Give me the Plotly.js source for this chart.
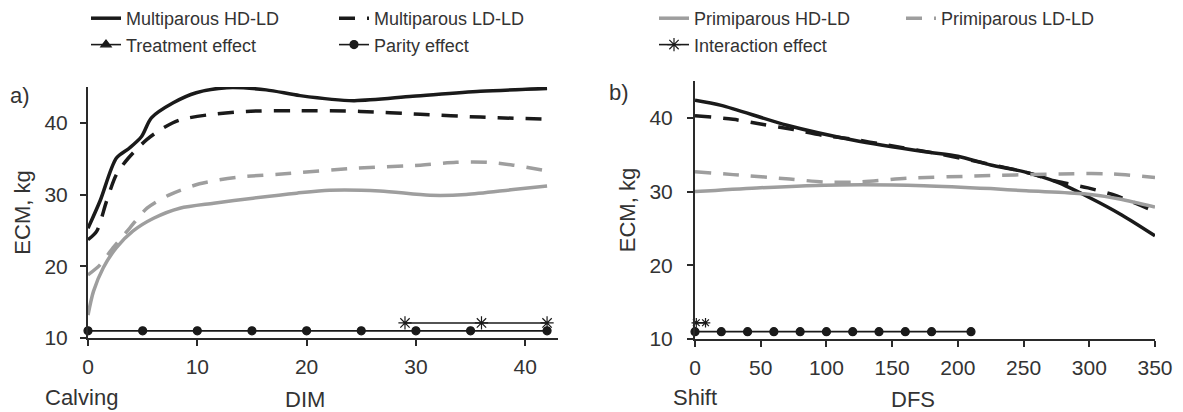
<!DOCTYPE html>
<html>
<head>
<meta charset="utf-8">
<script src="https://cdn.plot.ly/plotly-3.0.1.min.js"></script>
<style>
  html, body { margin: 0; padding: 0; background: #fff; }
  #chart { width: 1183px; height: 412px; }
</style>
</head>
<body>
<div id="chart"></div>
<script>
// ---- a) Energy-corrected milk around calving (days in milk) ----
const dimMultiHD = [0, 1.1, 2.6, 3.8, 4.9, 5.8, 7.8, 9.9, 12.7, 16.3, 19.4, 24.3, 29.7, 35.9, 42];
const ecmMultiHD = [25.3, 29.1, 35.1, 36.5, 38.1, 40.7, 42.8, 44.2, 44.9, 44.6, 43.8, 43.1, 43.7, 44.4, 44.8];

const dimMultiLD = [0, 0.8, 1.7, 2.6, 3.7, 5.4, 6.9, 8.4, 10.9, 14.5, 19.1, 24.9, 30.4, 35.9, 42];
const ecmMultiLD = [23.7, 24.9, 29.1, 32.8, 35.1, 37.7, 39.3, 40.4, 41.1, 41.6, 41.7, 41.6, 41.2, 40.8, 40.5];

const dimPrimiHD = [0, 0.5, 1.4, 2.6, 4.1, 6.0, 8.4, 11.5, 15.1, 19.1, 22.1, 26.7, 31.3, 34.6, 38.9, 42];
const ecmPrimiHD = [13.2, 16.5, 19.8, 22.6, 24.9, 26.7, 28.1, 28.8, 29.5, 30.2, 30.6, 30.5, 29.9, 30.0, 30.7, 31.2];

const dimPrimiLD = [0, 1.1, 2.3, 3.8, 5.4, 7.5, 10.2, 13.6, 18, 24.6, 30.4, 33.7, 36.5, 38.9, 42];
const ecmPrimiLD = [18.8, 20.2, 22.6, 25.3, 28.1, 30.0, 31.5, 32.4, 32.9, 33.7, 34.1, 34.5, 34.5, 34.1, 33.3];

// significance rows (drawn just above the axis)
const dimParity = [0, 5, 10, 15, 20, 25, 30, 35, 42];
const rowParityA = [11, 11, 11, 11, 11, 11, 11, 11, 11];
const dimInteraction = [29, 36, 42];
const rowInteractionA = [12.1, 12.1, 12.1];

// ---- b) Energy-corrected milk after the shift (days from shift) ----
const dfsMultiHD = [0, 20, 70, 120, 175, 200, 225, 250, 275, 300, 325, 350];
const ecmMultiHDb = [42.4, 41.7, 39.0, 37.0, 35.4, 34.8, 33.6, 32.7, 31.3, 29.2, 26.8, 24.0];

const dfsMultiLD = [0, 29, 52, 75, 98, 120, 143, 186, 252, 275, 299, 321, 350];
const ecmMultiLDb = [40.3, 39.8, 39.1, 38.4, 37.6, 37.1, 36.4, 35.1, 32.6, 31.4, 30.5, 29.4, 27.3];

const dfsPrimiHD = [0, 47, 110, 174, 225, 252, 296, 323, 350];
const ecmPrimiHDb = [30.0, 30.5, 30.9, 30.8, 30.4, 30.1, 29.7, 29.0, 27.9];

const dfsPrimiLD = [0, 29, 72, 98, 123, 161, 212, 278, 316, 350];
const ecmPrimiLDb = [32.7, 32.3, 31.7, 31.3, 31.3, 31.8, 32.1, 32.4, 32.4, 31.9];

const dfsParity = [0, 20, 40, 60, 80, 100, 120, 140, 160, 180, 210];
const rowParityB = [11, 11, 11, 11, 11, 11, 11, 11, 11, 11, 11];
const dfsInteraction = [1, 8];
const rowInteractionB = [12.2, 12.2];

// ---- styling ----
const DARK = '#1a1a1a';
const GREY = '#9e9e9e';
const TEXT = '#333333';
const FONT = 'Liberation Sans, Arial, sans-serif';
const DASH = '16px,12px';

function curve(x, y, name, color, dash, xa, ya, legend, show) {
  return {
    type: 'scatter', mode: 'lines', x: x, y: y, name: name,
    xaxis: xa, yaxis: ya, legend: legend, showlegend: show,
    line: { color: color, width: 3.5, dash: dash, shape: 'spline', smoothing: 0.8 },
    hoverinfo: 'skip'
  };
}

function effectRow(x, y, name, symbol, size, xa, ya, legend, show) {
  return {
    type: 'scatter', mode: 'lines+markers', x: x, y: y, name: name,
    xaxis: xa, yaxis: ya, legend: legend, showlegend: show, cliponaxis: false,
    line: { color: DARK, width: 1.6 },
    marker: { symbol: symbol, size: size, color: DARK, line: { color: DARK, width: 1.2 } },
    hoverinfo: 'skip'
  };
}

const traces = [
  curve(dimMultiHD, ecmMultiHD, 'Multiparous HD-LD', DARK, 'solid', 'x', 'y', 'legend', true),
  effectRow([null], [null], 'Treatment effect', 'triangle-up', 9, 'x', 'y', 'legend', true),
  curve(dimMultiLD, ecmMultiLD, 'Multiparous LD-LD', DARK, DASH, 'x', 'y', 'legend2', true),
  effectRow(dimParity, rowParityA, 'Parity effect', 'circle', 8, 'x', 'y', 'legend2', true),
  curve(dimPrimiHD, ecmPrimiHD, 'Primiparous HD-LD', GREY, 'solid', 'x', 'y', 'legend3', true),
  effectRow(dimInteraction, rowInteractionA, 'Interaction effect', 'asterisk-open', 11, 'x', 'y', 'legend3', true),
  curve(dimPrimiLD, ecmPrimiLD, 'Primiparous LD-LD', GREY, DASH, 'x', 'y', 'legend4', true),

  curve(dfsMultiHD, ecmMultiHDb, 'Multiparous HD-LD', DARK, 'solid', 'x2', 'y2', 'legend', false),
  curve(dfsMultiLD, ecmMultiLDb, 'Multiparous LD-LD', DARK, DASH, 'x2', 'y2', 'legend', false),
  curve(dfsPrimiHD, ecmPrimiHDb, 'Primiparous HD-LD', GREY, 'solid', 'x2', 'y2', 'legend', false),
  curve(dfsPrimiLD, ecmPrimiLDb, 'Primiparous LD-LD', GREY, DASH, 'x2', 'y2', 'legend', false),
  effectRow(dfsParity, rowParityB, 'Parity effect', 'circle', 8, 'x2', 'y2', 'legend', false),
  effectRow(dfsInteraction, rowInteractionB, 'Interaction effect', 'asterisk-open', 8, 'x2', 'y2', 'legend', false)
];

const W = 1183, H = 412;
const px = v => v / W;
const py = v => 1 - v / H;

const axisBase = {
  showgrid: false, zeroline: false, showline: true,
  linecolor: '#2a2a2a', linewidth: 2,
  ticks: 'outside', ticklen: 6, tickwidth: 2, tickcolor: '#2a2a2a',
  tickfont: { family: FONT, size: 21, color: TEXT },
  fixedrange: true
};

function legendAt(xPix) {
  return {
    x: px(xPix), xanchor: 'left', y: 1, yanchor: 'top',
    orientation: 'v', bgcolor: 'rgba(0,0,0,0)', borderwidth: 0,
    font: { family: FONT, size: 18, color: TEXT },
    itemwidth: 30, tracegroupgap: 0
  };
}

const yTitle = { text: 'ECM, kg', font: { family: FONT, size: 22, color: TEXT }, standoff: 8 };
const labelFont = { family: FONT, size: 22, color: TEXT };

const layout = {
  width: W, height: H,
  margin: { l: 0, r: 0, t: 0, b: 0 },
  paper_bgcolor: '#fff', plot_bgcolor: '#fff',
  font: { family: FONT, color: TEXT },
  xaxis: Object.assign({}, axisBase, {
    domain: [px(88), px(558)], range: [0, 43], tickvals: [0, 10, 20, 30, 40], anchor: 'y',
    ticklabelstandoff: 3
  }),
  yaxis: Object.assign({}, axisBase, {
    domain: [py(338), py(87)], range: [10, 45], tickvals: [10, 20, 30, 40], anchor: 'x',
    ticklabelstandoff: 8, title: yTitle
  }),
  xaxis2: Object.assign({}, axisBase, {
    domain: [px(695), px(1155)], range: [0, 350], tickvals: [0, 50, 100, 150, 200, 250, 300, 350], anchor: 'y2',
    ticklabelstandoff: 3
  }),
  yaxis2: Object.assign({}, axisBase, {
    domain: [py(339), py(81)], range: [10, 45], tickvals: [10, 20, 30, 40], anchor: 'x2',
    ticklabelstandoff: 10, title: yTitle
  }),
  legend: legendAt(86),
  legend2: legendAt(334),
  legend3: legendAt(654),
  legend4: legendAt(901),
  annotations: [
    { text: 'a)', xref: 'paper', yref: 'paper', x: px(8), y: py(95), xanchor: 'left', yanchor: 'middle', showarrow: false, font: labelFont },
    { text: 'b)', xref: 'paper', yref: 'paper', x: px(607), y: py(92), xanchor: 'left', yanchor: 'middle', showarrow: false, font: labelFont },
    { text: 'Calving', xref: 'paper', yref: 'paper', x: px(81), y: py(397), xanchor: 'center', yanchor: 'middle', showarrow: false, font: labelFont },
    { text: 'DIM', xref: 'paper', yref: 'paper', x: px(305), y: py(399), xanchor: 'center', yanchor: 'middle', showarrow: false, font: labelFont },
    { text: 'Shift', xref: 'paper', yref: 'paper', x: px(695), y: py(397), xanchor: 'center', yanchor: 'middle', showarrow: false, font: labelFont },
    { text: 'DFS', xref: 'paper', yref: 'paper', x: px(913), y: py(399), xanchor: 'center', yanchor: 'middle', showarrow: false, font: labelFont }
  ]
};

Plotly.newPlot('chart', traces, layout, { staticPlot: true, displayModeBar: false });
</script>
</body>
</html>
